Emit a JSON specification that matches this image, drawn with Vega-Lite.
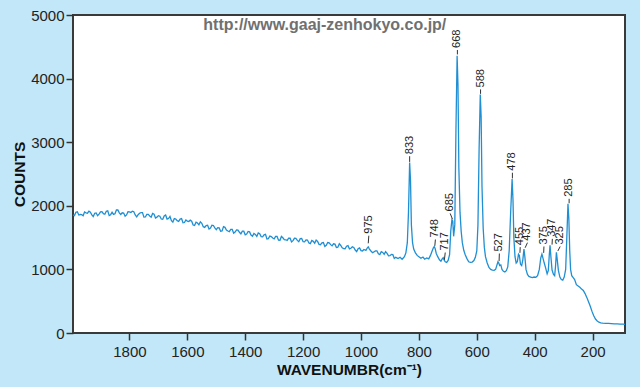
{
  "$schema": "https://vega.github.io/schema/vega-lite/v6.json",
  "width": 552,
  "height": 318,
  "autosize": {"type": "none"},
  "padding": {"left": 73, "top": 15, "right": 15, "bottom": 54},
  "background": "#c2e7f8",
  "config": {
    "font": "Liberation Sans",
    "view": {"stroke": "#3a3a3a", "strokeWidth": 2, "fill": "white"},
    "axis": {
      "grid": false, "domain": false, "format": "d",
      "labelFont": "Liberation Sans", "labelFontSize": 15, "labelColor": "#222",
      "tickColor": "#333", "tickWidth": 1.5, "tickSize": 7,
      "titleFont": "Liberation Sans", "titleFontSize": 15.5, "titleFontWeight": "bold", "titleColor": "#111"
    },
    "axisX": {"labelPadding": 4, "titlePadding": 3},
    "axisY": {"labelPadding": 2, "titlePadding": 3}
  },
  "datasets": {
    "spectrum": [
      {"w":2000,"c":1890},{"w":1990,"c":1846},{"w":1980,"c":1907},{"w":1970,"c":1863},{"w":1960,"c":1844},{"w":1950,"c":1890},{"w":1940,"c":1916},{"w":1930,"c":1857},{"w":1920,"c":1883},{"w":1910,"c":1844},
      {"w":1900,"c":1905},{"w":1890,"c":1877},{"w":1880,"c":1914},{"w":1870,"c":1846},{"w":1860,"c":1898},{"w":1850,"c":1875},{"w":1840,"c":1934},{"w":1830,"c":1863},{"w":1820,"c":1887},{"w":1810,"c":1856},
      {"w":1800,"c":1905},{"w":1790,"c":1915},{"w":1780,"c":1855},{"w":1770,"c":1860},{"w":1760,"c":1893},{"w":1750,"c":1822},{"w":1740,"c":1866},{"w":1730,"c":1840},{"w":1720,"c":1880},{"w":1710,"c":1808},
      {"w":1700,"c":1845},{"w":1690,"c":1792},{"w":1680,"c":1839},{"w":1670,"c":1791},{"w":1660,"c":1833},{"w":1650,"c":1745},{"w":1640,"c":1793},{"w":1630,"c":1756},{"w":1620,"c":1799},{"w":1610,"c":1737},
      {"w":1600,"c":1760},{"w":1590,"c":1774},{"w":1580,"c":1698},{"w":1570,"c":1742},{"w":1560,"c":1701},{"w":1550,"c":1725},{"w":1540,"c":1660},{"w":1530,"c":1695},{"w":1520,"c":1650},{"w":1510,"c":1690},
      {"w":1500,"c":1625},{"w":1490,"c":1652},{"w":1480,"c":1604},{"w":1470,"c":1661},{"w":1460,"c":1603},{"w":1450,"c":1630},{"w":1440,"c":1568},{"w":1430,"c":1621},{"w":1420,"c":1584},{"w":1410,"c":1602},
      {"w":1400,"c":1545},{"w":1390,"c":1597},{"w":1380,"c":1539},{"w":1370,"c":1566},{"w":1360,"c":1518},{"w":1350,"c":1560},{"w":1340,"c":1513},{"w":1330,"c":1551},{"w":1320,"c":1484},{"w":1310,"c":1517},
      {"w":1300,"c":1480},{"w":1290,"c":1519},{"w":1280,"c":1458},{"w":1270,"c":1497},{"w":1260,"c":1466},{"w":1250,"c":1490},{"w":1240,"c":1432},{"w":1230,"c":1489},{"w":1220,"c":1456},{"w":1210,"c":1483},
      {"w":1200,"c":1435},{"w":1190,"c":1463},{"w":1180,"c":1416},{"w":1170,"c":1454},{"w":1160,"c":1412},{"w":1150,"c":1440},{"w":1140,"c":1388},{"w":1130,"c":1421},{"w":1120,"c":1379},{"w":1110,"c":1417},
      {"w":1100,"c":1370},{"w":1090,"c":1397},{"w":1080,"c":1349},{"w":1070,"c":1376},{"w":1060,"c":1328},{"w":1050,"c":1365},{"w":1040,"c":1323},{"w":1030,"c":1356},{"w":1020,"c":1304},{"w":1010,"c":1327},
      {"w":1000,"c":1295},{"w":990,"c":1313},{"w":983,"c":1300},{"w":978,"c":1340},{"w":975,"c":1355},{"w":971,"c":1320},{"w":965,"c":1285},{"w":960,"c":1262},{"w":950,"c":1290},{"w":940,"c":1247},
      {"w":930,"c":1279},{"w":920,"c":1236},{"w":910,"c":1253},{"w":900,"c":1215},{"w":890,"c":1232},{"w":880,"c":1190},{"w":872,"c":1170},{"w":865,"c":1190},{"w":858,"c":1160},{"w":850,"c":1200},
      {"w":845,"c":1260},{"w":840,"c":1420},{"w":836,"c":1900},{"w":832,"c":2680},{"w":829,"c":2400},{"w":826,"c":1700},{"w":822,"c":1420},{"w":818,"c":1320},{"w":812,"c":1260},{"w":806,"c":1220},
      {"w":800,"c":1200},{"w":793,"c":1175},{"w":786,"c":1195},{"w":780,"c":1160},{"w":773,"c":1180},{"w":766,"c":1165},{"w":760,"c":1220},{"w":755,"c":1280},{"w":750,"c":1340},{"w":747,"c":1360},
      {"w":744,"c":1330},{"w":740,"c":1250},{"w":735,"c":1200},{"w":729,"c":1150},{"w":724,"c":1130},{"w":719,"c":1170},{"w":716,"c":1185},{"w":713,"c":1150},{"w":709,"c":1120},{"w":704,"c":1110},
      {"w":699,"c":1140},{"w":694,"c":1230},{"w":690,"c":1600},{"w":686,"c":1780},{"w":683,"c":1760},{"w":680,"c":1520},{"w":676,"c":1700},{"w":672,"c":3200},{"w":668,"c":4360},{"w":665,"c":3900},
      {"w":662,"c":2600},{"w":658,"c":1900},{"w":654,"c":1600},{"w":650,"c":1420},{"w":645,"c":1300},{"w":640,"c":1230},{"w":634,"c":1170},{"w":628,"c":1120},{"w":622,"c":1110},{"w":616,"c":1115},
      {"w":610,"c":1140},{"w":605,"c":1190},{"w":600,"c":1290},{"w":596,"c":1700},{"w":592,"c":2900},{"w":588,"c":3750},{"w":585,"c":3400},{"w":582,"c":2300},{"w":578,"c":1650},{"w":574,"c":1350},
      {"w":570,"c":1200},{"w":564,"c":1100},{"w":558,"c":1030},{"w":552,"c":1000},{"w":546,"c":990},{"w":540,"c":985},{"w":535,"c":1000},{"w":531,"c":1060},{"w":527,"c":1120},{"w":524,"c":1100},
      {"w":521,"c":1060},{"w":517,"c":1070},{"w":513,"c":1000},{"w":508,"c":970},{"w":503,"c":960},{"w":498,"c":980},{"w":493,"c":1040},{"w":488,"c":1300},{"w":483,"c":1900},{"w":478,"c":2420},
      {"w":475,"c":2100},{"w":472,"c":1500},{"w":468,"c":1200},{"w":464,"c":1100},{"w":460,"c":1120},{"w":456,"c":1240},{"w":453,"c":1220},{"w":449,"c":1080},{"w":445,"c":1060},{"w":441,"c":1150},
      {"w":437,"c":1320},{"w":434,"c":1200},{"w":430,"c":1000},{"w":425,"c":920},{"w":420,"c":890},{"w":414,"c":880},{"w":408,"c":870},{"w":402,"c":880},{"w":396,"c":875},{"w":390,"c":900},
      {"w":384,"c":1000},{"w":379,"c":1180},{"w":375,"c":1240},{"w":371,"c":1170},{"w":367,"c":1100},{"w":362,"c":1020},{"w":357,"c":930},{"w":353,"c":980},{"w":350,"c":1200},{"w":347,"c":1380},
      {"w":344,"c":1200},{"w":340,"c":990},{"w":335,"c":920},{"w":331,"c":900},{"w":328,"c":1050},{"w":325,"c":1270},{"w":322,"c":1150},{"w":318,"c":980},{"w":313,"c":880},{"w":308,"c":840},
      {"w":303,"c":830},{"w":298,"c":880},{"w":293,"c":1000},{"w":289,"c":1500},{"w":285,"c":2030},{"w":282,"c":1800},{"w":279,"c":1300},{"w":276,"c":1000},{"w":272,"c":900},{"w":267,"c":870},
      {"w":262,"c":840},{"w":256,"c":760},{"w":250,"c":740},{"w":244,"c":720},{"w":238,"c":690},{"w":232,"c":670},{"w":226,"c":620},{"w":220,"c":560},{"w":214,"c":490},{"w":208,"c":420},
      {"w":202,"c":340},{"w":196,"c":270},{"w":190,"c":220},{"w":184,"c":190},{"w":178,"c":170},{"w":172,"c":160},{"w":165,"c":155},{"w":155,"c":150},{"w":145,"c":152},{"w":135,"c":148},
      {"w":125,"c":145},{"w":115,"c":143},{"w":105,"c":140},{"w":95,"c":138},{"w":88,"c":135},
      {"w":1995,"c":1853},{"w":1985,"c":1898},{"w":1975,"c":1855},{"w":1965,"c":1861},{"w":1955,"c":1902},{"w":1945,"c":1883},{"w":1935,"c":1898},{"w":1925,"c":1832},{"w":1915,"c":1888},{"w":1905,"c":1869},
      {"w":1895,"c":1909},{"w":1885,"c":1867},{"w":1875,"c":1920},{"w":1865,"c":1860},{"w":1855,"c":1864},{"w":1845,"c":1934},{"w":1835,"c":1890},{"w":1825,"c":1890},{"w":1815,"c":1836},{"w":1805,"c":1908},
      {"w":1795,"c":1895},{"w":1785,"c":1907},{"w":1775,"c":1827},{"w":1765,"c":1884},{"w":1755,"c":1892},{"w":1745,"c":1824},{"w":1735,"c":1865},{"w":1725,"c":1822},{"w":1715,"c":1869},{"w":1705,"c":1821},
      {"w":1695,"c":1836},{"w":1685,"c":1787},{"w":1675,"c":1855},{"w":1665,"c":1800},{"w":1655,"c":1767},{"w":1645,"c":1799},{"w":1635,"c":1766},{"w":1625,"c":1792},{"w":1615,"c":1733},{"w":1605,"c":1776},
      {"w":1595,"c":1752},{"w":1585,"c":1758},{"w":1575,"c":1690},{"w":1565,"c":1729},{"w":1555,"c":1748},{"w":1545,"c":1672},{"w":1535,"c":1689},{"w":1525,"c":1634},{"w":1515,"c":1695},{"w":1505,"c":1652},
      {"w":1495,"c":1656},{"w":1485,"c":1600},{"w":1475,"c":1672},{"w":1465,"c":1620},{"w":1455,"c":1594},{"w":1445,"c":1629},{"w":1435,"c":1586},{"w":1425,"c":1617},{"w":1415,"c":1558},{"w":1405,"c":1601},
      {"w":1395,"c":1556},{"w":1385,"c":1590},{"w":1375,"c":1522},{"w":1365,"c":1550},{"w":1355,"c":1574},{"w":1345,"c":1516},{"w":1335,"c":1544},{"w":1325,"c":1479},{"w":1315,"c":1525},{"w":1305,"c":1493},
      {"w":1295,"c":1518},{"w":1285,"c":1460},{"w":1275,"c":1518},{"w":1265,"c":1469},{"w":1255,"c":1456},{"w":1245,"c":1491},{"w":1235,"c":1452},{"w":1225,"c":1487},{"w":1215,"c":1435},{"w":1205,"c":1487},
      {"w":1195,"c":1434},{"w":1185,"c":1462},{"w":1175,"c":1405},{"w":1165,"c":1441},{"w":1155,"c":1461},{"w":1145,"c":1394},{"w":1135,"c":1416},{"w":1125,"c":1362},{"w":1115,"c":1423},{"w":1105,"c":1389},
      {"w":1095,"c":1402},{"w":1085,"c":1345},{"w":1075,"c":1403},{"w":1065,"c":1340},{"w":1055,"c":1325},{"w":1045,"c":1374},{"w":1035,"c":1332},{"w":1025,"c":1345},{"w":1015,"c":1281},{"w":1005,"c":1339},
      {"w":995,"c":1289},{"w":945,"c":1291},{"w":935,"c":1233},{"w":925,"c":1266},{"w":915,"c":1280},{"w":905,"c":1214},{"w":895,"c":1236},{"w":885,"c":1173}
    ],
    "peaks": [
      {"label":"975","ax":975,"ay":1410,"bx":973,"by":1530},
      {"label":"833","ax":832,"ay":2690,"bx":832,"by":2780},
      {"label":"748","ax":745,"ay":1370,"bx":743,"by":1470},
      {"label":"717","ax":712,"ay":1150,"bx":709,"by":1265},
      {"label":"685","ax":684,"ay":1790,"bx":692,"by":1880},
      {"label":"668","ax":667,"ay":4380,"bx":667,"by":4450},
      {"label":"588","ax":587,"ay":3760,"bx":587,"by":3830},
      {"label":"527","ax":523,"ay":1130,"bx":522,"by":1250},
      {"label":"478","ax":477,"ay":2430,"bx":477,"by":2520},
      {"label":"455","ax":451,"ay":1260,"bx":450,"by":1350},
      {"label":"437","ax":433,"ay":1340,"bx":425,"by":1420},
      {"label":"375","ax":369,"ay":1260,"bx":368,"by":1360},
      {"label":"347","ax":340,"ay":1390,"bx":339,"by":1480},
      {"label":"325","ax":320,"ay":1290,"bx":312,"by":1360},
      {"label":"285","ax":281,"ay":2040,"bx":281,"by":2110}
    ],
    "note": [{"w":1125,"c":4843,"t":"http://www.gaaj-zenhokyo.co.jp/"}]
  },
  "layer": [
    {
      "data": {"name": "spectrum"},
      "mark": {"type": "line", "color": "#1f8fd3", "strokeWidth": 1.3, "clip": true},
      "encoding": {
        "x": {"field": "w", "type": "quantitative", "scale": {"domain": [1995, 88], "nice": false, "zero": false}, "axis": {"values": [1800,1600,1400,1200,1000,800,600,400,200]}, "title": "WAVENUMBR(cm⁻¹)"},
        "y": {"field": "c", "type": "quantitative", "scale": {"domain": [0, 5000], "nice": false}, "axis": {"values": [0,1000,2000,3000,4000,5000]}, "title": "COUNTS"}
      }
    },
    {
      "data": {"name": "peaks"},
      "mark": {"type": "rule", "color": "#333", "strokeWidth": 1},
      "encoding": {
        "x": {"field": "ax", "type": "quantitative", "scale": {"domain": [1995, 88], "nice": false, "zero": false}, "axis": {"values": [1800,1600,1400,1200,1000,800,600,400,200]}, "title": "WAVENUMBR(cm⁻¹)"},
        "y": {"field": "ay", "type": "quantitative", "scale": {"domain": [0, 5000], "nice": false}, "axis": {"values": [0,1000,2000,3000,4000,5000]}, "title": "COUNTS"},
        "x2": {"field": "bx"},
        "y2": {"field": "by"}
      }
    },
    {
      "data": {"name": "peaks"},
      "mark": {"type": "text", "angle": 270, "align": "left", "baseline": "middle", "dx": 2, "fontSize": 11, "color": "#222", "font": "Liberation Sans"},
      "encoding": {
        "x": {"field": "bx", "type": "quantitative", "scale": {"domain": [1995, 88], "nice": false, "zero": false}, "axis": {"values": [1800,1600,1400,1200,1000,800,600,400,200]}, "title": "WAVENUMBR(cm⁻¹)"},
        "y": {"field": "by", "type": "quantitative", "scale": {"domain": [0, 5000], "nice": false}, "axis": {"values": [0,1000,2000,3000,4000,5000]}, "title": "COUNTS"},
        "text": {"field": "label"}
      }
    },
    {
      "data": {"name": "note"},
      "mark": {"type": "text", "fontSize": 16, "fontWeight": "bold", "color": "#707070", "font": "Liberation Sans", "baseline": "middle"},
      "encoding": {
        "x": {"field": "w", "type": "quantitative", "scale": {"domain": [1995, 88], "nice": false, "zero": false}, "axis": {"values": [1800,1600,1400,1200,1000,800,600,400,200]}, "title": "WAVENUMBR(cm⁻¹)"},
        "y": {"field": "c", "type": "quantitative", "scale": {"domain": [0, 5000], "nice": false}, "axis": {"values": [0,1000,2000,3000,4000,5000]}, "title": "COUNTS"},
        "text": {"field": "t"}
      }
    }
  ]
}
